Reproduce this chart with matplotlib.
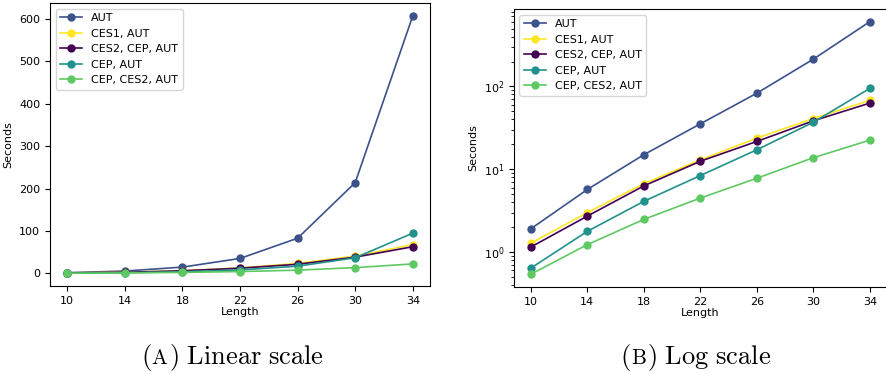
import numpy as np
import matplotlib
matplotlib.use('Agg')
import matplotlib.pyplot as plt

# string lengths on the x axis
length = [10, 14, 18, 22, 26, 30, 34]

# runtimes in seconds
aut = [1.91, 5.7, 15.0, 35.4, 83, 214, 607]
ces1_aut = [1.28, 3.0, 6.7, 13.0, 23.8, 41, 68]
ces2_cep_aut = [1.15, 2.72, 6.3, 12.5, 21.7, 38.5, 63]
cep_aut = [0.64, 1.78, 4.1, 8.4, 17.2, 37, 95]
cep_ces2_aut = [0.54, 1.23, 2.48, 4.49, 7.8, 13.8, 22.5]

labels = ['AUT', 'CES1, AUT', 'CES2, CEP, AUT', 'CEP, AUT', 'CEP, CES2, AUT']
series = [aut, ces1_aut, ces2_cep_aut, cep_aut, cep_ces2_aut]
colors = ['#3b528b', '#fde725', '#440154', '#21918c', '#5ec962']

plt.rcParams['font.size'] = 8
plt.rcParams['mathtext.fontset'] = 'cm'

fig = plt.figure(figsize=(8.86, 3.74), dpi=100)
ax1 = fig.add_axes([0.0564, 0.235, 0.429, 0.757])
ax2 = fig.add_axes([0.580, 0.233, 0.421, 0.743])

for ax in (ax1, ax2):
    for y, lab, c in zip(series, labels, colors):
        ax.plot(length, y, 'o-', color=c, label=lab, markersize=5, linewidth=1.2)
    ax.set_xticks(length)
    ax.set_xlabel('Length', labelpad=1)
    ax.set_ylabel('Seconds')
    ax.legend(loc='upper left', fontsize=8)

ax2.set_yscale('log')


# caption with a small-caps letter, built from pieces
def caption(xc, yb, letter, rest, size=19):
    renderer = fig.canvas.get_renderer()
    parts = [('(', size), (letter, size * 0.8), (r')\ ' + rest, size)]
    texts = []
    for s, fs in parts:
        t = fig.text(0, yb, r'$\mathrm{' + s + '}$', fontsize=fs, va='baseline')
        texts.append(t)
    widths = [t.get_window_extent(renderer).width / fig.bbox.width for t in texts]
    x = xc - sum(widths) / 2
    for t, w in zip(texts, widths):
        t.set_x(x)
        x += w


caption(0.262, 0.027, 'A', r'Linear\ scale')
caption(0.785, 0.027, 'B', r'Log\ scale')

plt.savefig('out.png')
